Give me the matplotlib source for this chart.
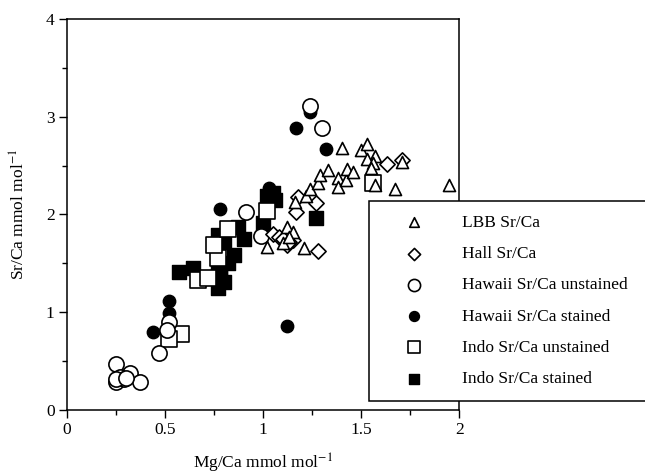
import matplotlib
matplotlib.use("Agg")
import matplotlib.pyplot as plt

plt.rcParams['font.family'] = ['Liberation Serif', 'DejaVu Serif']
plt.rcParams['mathtext.fontset'] = 'stix'

# Data (Mg/Ca, Sr/Ca)
lbb_x = [1.02, 1.12, 1.15, 1.10, 1.21, 1.13, 1.16, 1.22, 1.24, 1.28, 1.29, 1.33, 1.38, 1.38,
         1.42, 1.43, 1.46, 1.40, 1.50, 1.53, 1.57, 1.53, 1.56, 1.55, 1.57, 1.67, 1.71, 1.95]
lbb_y = [1.67, 1.87, 1.82, 1.71, 1.66, 1.77, 2.13, 2.19, 2.26, 2.32, 2.40, 2.45, 2.37, 2.28,
         2.35, 2.47, 2.43, 2.68, 2.66, 2.72, 2.60, 2.57, 2.53, 2.48, 2.30, 2.26, 2.54, 2.30]

hall_x = [1.18, 1.27, 1.17, 1.28, 1.05, 1.08, 1.12, 1.15, 1.10, 1.13, 1.63, 1.71]
hall_y = [2.18, 2.12, 2.02, 1.63, 1.80, 1.77, 1.69, 1.74, 1.75, 1.72, 2.52, 2.56]

haw_un_x = [1.24, 1.30, 0.91, 0.99, 0.52, 0.51, 0.47, 0.25, 0.32, 0.37, 0.25, 0.27, 0.29, 0.25, 0.30]
haw_un_y = [3.11, 2.88, 2.03, 1.78, 0.90, 0.82, 0.58, 0.47, 0.38, 0.28, 0.28, 0.34, 0.32, 0.32, 0.33]

haw_st_x = [1.24, 1.17, 1.32, 0.78, 1.03, 1.12, 0.52, 0.52, 0.44]
haw_st_y = [3.05, 2.88, 2.67, 2.06, 2.27, 0.86, 1.11, 0.99, 0.80]

indo_un_x = [0.67, 0.72, 0.77, 0.75, 0.82, 1.02, 1.56, 0.58, 0.52]
indo_un_y = [1.33, 1.35, 1.55, 1.69, 1.85, 2.04, 2.32, 0.78, 0.72]

indo_st_x = [0.57, 0.64, 0.78, 0.80, 0.77, 0.82, 0.85, 0.77, 0.77, 0.80, 0.87, 0.90, 1.00,
             1.02, 1.05, 1.06, 1.27, 0.78]
indo_st_y = [1.41, 1.45, 1.40, 1.31, 1.25, 1.50, 1.58, 1.43, 1.79, 1.72, 1.87, 1.75, 1.91,
             2.19, 2.22, 2.15, 1.96, 1.37]

fig = plt.figure(figsize=(6.45, 4.76), dpi=100)
ax = fig.add_axes([0.104, 0.139, 0.608, 0.821])

ax.scatter(indo_st_x, indo_st_y, marker='s', s=95, c='black', edgecolors='black', zorder=2,
           label='Indo Sr/Ca stained')
ax.scatter(indo_un_x, indo_un_y, marker='s', s=120, facecolors='white', edgecolors='black',
           linewidths=1.2, zorder=3, label='Indo Sr/Ca unstained')
ax.scatter(haw_st_x, haw_st_y, marker='o', s=80, c='black', edgecolors='black', zorder=3,
           label='Hawaii Sr/Ca stained')
ax.scatter(haw_un_x, haw_un_y, marker='o', s=120, facecolors='white', edgecolors='black',
           linewidths=1.2, zorder=4, label='Hawaii Sr/Ca unstained')
ax.scatter(hall_x, hall_y, marker='D', s=60, facecolors='white', edgecolors='black',
           linewidths=1.2, zorder=4, label='Hall Sr/Ca')
ax.scatter(lbb_x, lbb_y, marker='^', s=75, facecolors='white', edgecolors='black',
           linewidths=1.2, zorder=5, label='LBB Sr/Ca')

ax.set_xlim(0, 2)
ax.set_ylim(0, 4)
ax.set_xticks([0, 0.5, 1, 1.5, 2])
ax.set_xticklabels(['0', '0.5', '1', '1.5', '2'])
ax.set_xticks([0.25, 0.75, 1.25, 1.75], minor=True)
ax.set_yticks([0, 1, 2, 3, 4])
ax.set_yticks([0.5, 1.5, 2.5, 3.5], minor=True)
ax.tick_params(which='major', direction='out', length=6, width=1, labelsize=12.5, pad=3,
               top=False, right=False)
ax.tick_params(which='minor', direction='out', length=3.5, width=1, top=False, right=False)
for sp in ax.spines.values():
    sp.set_linewidth(1.1)

ax.set_xlabel('Mg/Ca mmol mol$^{-1}$', fontsize=12.5, labelpad=10)
ax.set_ylabel('Sr/Ca mmol mol$^{-1}$', fontsize=12.5, labelpad=12)

# legend in the original order
handles, labels = ax.get_legend_handles_labels()
order = [5, 4, 3, 2, 1, 0]
leg = fig.legend([handles[i] for i in order], [labels[i] for i in order],
                 loc='upper left', bbox_to_anchor=(0.572, 0.158, 0.43, 0.42), mode='expand',
                 fontsize=12.5, frameon=True, fancybox=False, edgecolor='black', framealpha=1,
                 borderpad=0.8, labelspacing=0.87, handlelength=3.55, handletextpad=1.0,
                 borderaxespad=0, markerscale=0.8)
leg.get_frame().set_linewidth(1.1)
leg.set_zorder(10)

fig.savefig('out.png', dpi=100)
